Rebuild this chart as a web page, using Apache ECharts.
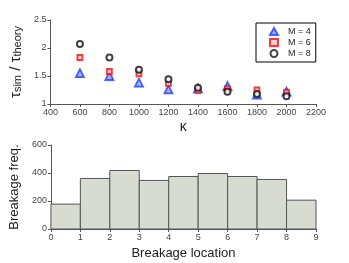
<!DOCTYPE html>
<html><head><meta charset="utf-8">
<script src="https://cdn.jsdelivr.net/npm/echarts@6/dist/echarts.min.js"></script>
<style>html,body{margin:0;padding:0;background:#fff}#c{width:349px;height:263px}</style>
</head><body><div id="c"></div>
<script>
const kappa = [600, 800, 1000, 1200, 1400, 1600, 1800, 2000];
const m4 = [1.55, 1.50, 1.38, 1.26, 1.28, 1.32, 1.17, 1.22];
const m6 = [1.83, 1.58, 1.54, 1.37, 1.24, 1.27, 1.25, 1.21];
const m8 = [2.07, 1.83, 1.61, 1.44, 1.29, 1.22, 1.18, 1.14];
const binEdgesStart = [0, 1, 2, 3, 4, 5, 6, 7, 8];
const freq = [178, 361, 418, 347, 375, 396, 375, 354, 206];

const font = 'Liberation Sans';
const chart = echarts.init(document.getElementById('c'));
const axisCommon = {
  axisLine: {lineStyle: {color: '#555', width: 1}},
  axisTick: {show: true, inside: false, length: 3, lineStyle: {color: '#555'}},
  axisLabel: {color: '#444', fontSize: 9, fontFamily: font, margin: 4, formatter: v => String(v)},
  splitLine: {show: false}
};
chart.setOption({
  animation: false,
  textStyle: {fontFamily: font},
  grid: [
    {left: 45, top: 20, width: 271, height: 84},
    {left: 45, top: 145, width: 271, height: 84}
  ],
  legend: {
    orient: 'vertical', left: 256, top: 23,
    borderColor: '#000', borderWidth: 1, padding: [4, 5, 4, 13],
    itemGap: 2, itemWidth: 8, itemHeight: 7,
    textStyle: {fontSize: 9, lineHeight: 9, color: '#222', fontFamily: font, padding: [0, 0, 0, 5]},
    data: ['M = 4', 'M = 6', 'M = 8']
  },
  xAxis: [
    Object.assign({}, axisCommon, {gridIndex: 0, type: 'value', min: 400, max: 2200, interval: 200,
      name: 'κ', nameLocation: 'middle', nameGap: 16,
      nameTextStyle: {fontSize: 14, color: '#222', fontFamily: font}}),
    Object.assign({}, axisCommon, {gridIndex: 1, type: 'value', min: 0, max: 9, interval: 1,
      name: 'Breakage location', nameLocation: 'middle', nameGap: 18,
      nameTextStyle: {fontSize: 13, color: '#222', fontFamily: font}})
  ],
  yAxis: [
    Object.assign({}, axisCommon, {gridIndex: 0, type: 'value', min: 1, max: 2.5, interval: 0.5,
      name: '{m|τ}{s|sim}{m| / τ}{s|theory}', nameLocation: 'middle', nameGap: 20,
      nameTextStyle: {color: '#222', rich: {
        m: {fontSize: 15, color: '#222', fontFamily: font, verticalAlign: 'bottom', lineHeight: 17},
        s: {fontSize: 11, color: '#222', fontFamily: font, verticalAlign: 'bottom', lineHeight: 12}
      }}}),
    Object.assign({}, axisCommon, {gridIndex: 1, type: 'value', min: 0, max: 600, interval: 200,
      name: 'Breakage freq.', nameLocation: 'middle', nameGap: 22,
      nameTextStyle: {fontSize: 13, color: '#222', fontFamily: font}})
  ],
  series: [
    {name: 'M = 4', type: 'scatter', xAxisIndex: 0, yAxisIndex: 0, symbol: 'triangle', symbolSize: 8,
      itemStyle: {color: '#8ea0ff', borderColor: '#1f3cff', borderWidth: 1.8},
      data: kappa.map((k, i) => [k, m4[i]])},
    {name: 'M = 6', type: 'scatter', xAxisIndex: 0, yAxisIndex: 0, symbol: 'rect', symbolSize: 5,
      itemStyle: {color: '#ffc0c0', borderColor: '#ee1111', borderWidth: 1.8},
      data: kappa.map((k, i) => [k, m6[i]])},
    {name: 'M = 8', type: 'scatter', xAxisIndex: 0, yAxisIndex: 0, symbol: 'circle', symbolSize: 6,
      itemStyle: {color: '#ffffff', borderColor: '#111', borderWidth: 2},
      data: kappa.map((k, i) => [k, m8[i]])},
    {type: 'custom', xAxisIndex: 1, yAxisIndex: 1,
      data: binEdgesStart.map((s, i) => [s, freq[i]]),
      renderItem: function (params, api) {
        const x0 = api.value(0), v = api.value(1);
        const p0 = api.coord([x0, v]);
        const p1 = api.coord([x0 + 1, 0]);
        return {type: 'rect', shape: {x: p0[0], y: p0[1], width: p1[0] - p0[0], height: p1[1] - p0[1]},
          style: {fill: '#d8dbd2', stroke: '#555', lineWidth: 1}};
      }}
  ]
});
</script></body></html>
